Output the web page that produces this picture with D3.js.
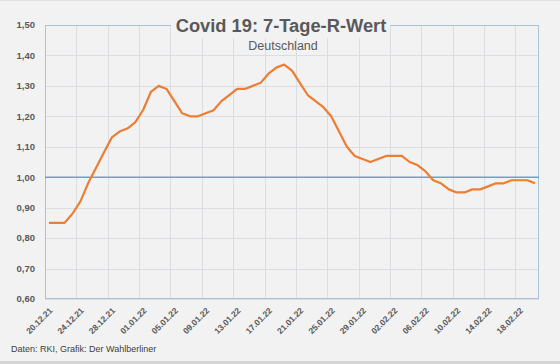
<!DOCTYPE html>
<html>
<head>
<meta charset="utf-8">
<script src="https://cdn.jsdelivr.net/npm/d3@7"></script>
<style>
  body { margin: 0; background: #f2f2f2; }
  svg { display: block; font-family: "Liberation Sans", Arial, sans-serif; }
</style>
</head>
<body>
<div id="chart"></div>
<script>
// data
const dates = [
  "20.12.21","21.12.21","22.12.21","23.12.21","24.12.21","25.12.21","26.12.21","27.12.21",
  "28.12.21","29.12.21","30.12.21","31.12.21","01.01.22","02.01.22","03.01.22","04.01.22",
  "05.01.22","06.01.22","07.01.22","08.01.22","09.01.22","10.01.22","11.01.22","12.01.22",
  "13.01.22","14.01.22","15.01.22","16.01.22","17.01.22","18.01.22","19.01.22","20.01.22",
  "21.01.22","22.01.22","23.01.22","24.01.22","25.01.22","26.01.22","27.01.22","28.01.22",
  "29.01.22","30.01.22","31.01.22","01.02.22","02.02.22","03.02.22","04.02.22","05.02.22",
  "06.02.22","07.02.22","08.02.22","09.02.22","10.02.22","11.02.22","12.02.22","13.02.22",
  "14.02.22","15.02.22","16.02.22","17.02.22","18.02.22","19.02.22","20.02.22"
];
const rWert = [
  0.85, 0.85, 0.85, 0.88, 0.92, 0.98, 1.03, 1.08,
  1.13, 1.15, 1.16, 1.18, 1.22, 1.28, 1.30, 1.29,
  1.25, 1.21, 1.20, 1.20, 1.21, 1.22, 1.25, 1.27,
  1.29, 1.29, 1.30, 1.31, 1.34, 1.36, 1.37, 1.35,
  1.31, 1.27, 1.25, 1.23, 1.20, 1.15, 1.10, 1.07,
  1.06, 1.05, 1.06, 1.07, 1.07, 1.07, 1.05, 1.04,
  1.02, 0.99, 0.98, 0.96, 0.95, 0.95, 0.96, 0.96,
  0.97, 0.98, 0.98, 0.99, 0.99, 0.99, 0.98
];
const yTicks = [0.6, 0.7, 0.8, 0.9, 1.0, 1.1, 1.2, 1.3, 1.4, 1.5];
const refValue = 1.0;
const title = "Covid 19: 7-Tage-R-Wert";
const subtitle = "Deutschland";
const source = "Daten: RKI, Grafik: Der Wahlberliner";

const width = 560, height = 364;
const margin = {top: 25, right: 21, bottom: 65, left: 45};

const svg = d3.select("#chart").append("svg")
  .attr("width", width)
  .attr("height", height);

svg.append("rect")
  .attr("width", width).attr("height", height)
  .attr("fill", "#f2f2f2");
svg.append("rect")
  .attr("x", 0).attr("y", 361).attr("width", width).attr("height", 3)
  .attr("fill", "#d4d4d4");
svg.append("rect")
  .attr("x", 0).attr("y", 0).attr("width", width).attr("height", 1)
  .attr("fill", "#e2e2e2");

const x = d3.scaleBand()
  .domain(dates)
  .range([margin.left, width - margin.right]);

const y = d3.scaleLinear()
  .domain([0.6, 1.5])
  .range([height - margin.bottom, margin.top]);

const g = svg.append("g");

// gridlines
g.append("g")
  .selectAll("line")
  .data(yTicks)
  .join("line")
  .attr("x1", margin.left).attr("x2", width - margin.right)
  .attr("y1", d => Math.round(y(d)) + 0.5).attr("y2", d => Math.round(y(d)) + 0.5)
  .attr("stroke", "#dadde2");

const tickDates = dates.filter((d, i) => i % 4 == 0);
g.append("g")
  .selectAll("line")
  .data(tickDates)
  .join("line")
  .attr("x1", d => Math.round(x(d)) + 0.5).attr("x2", d => Math.round(x(d)) + 0.5)
  .attr("y1", margin.top).attr("y2", height - margin.bottom)
  .attr("stroke", "#dadde2");

// frame
g.append("rect")
  .attr("x", margin.left + 0.5).attr("y", margin.top + 0.5)
  .attr("width", width - margin.left - margin.right - 1)
  .attr("height", height - margin.top - margin.bottom - 1)
  .attr("fill", "none")
  .attr("stroke", "#a9c1d9");

// reference line at 1,00
g.append("line")
  .attr("x1", margin.left).attr("x2", width - margin.right)
  .attr("y1", y(refValue)).attr("y2", y(refValue))
  .attr("stroke", "#6f9fd0")
  .attr("stroke-width", 1.6);

// y labels
const fmt = d => d3.format(".2f")(d).replace(".", ",");
g.append("g")
  .selectAll("text")
  .data(yTicks)
  .join("text")
  .attr("x", 35)
  .attr("y", d => y(d))
  .attr("dy", "0.35em")
  .attr("text-anchor", "end")
  .attr("font-size", 9.5)
  .attr("font-weight", "bold")
  .attr("fill", "#595959")
  .text(fmt);

// x labels
g.append("g")
  .selectAll("text")
  .data(tickDates)
  .join("text")
  .attr("transform", d => `translate(${x(d) + x.bandwidth() / 2 + 2},${height - margin.bottom + 10}) rotate(-45)`)
  .attr("text-anchor", "end")
  .attr("dy", "0.35em")
  .attr("font-size", 8.5)
  .attr("font-weight", "bold")
  .attr("fill", "#595959")
  .text(d => d);

// line
const line = d3.line()
  .x((d, i) => x(dates[i]) + x.bandwidth() / 2)
  .y(d => y(d));

g.append("path")
  .datum(rWert)
  .attr("fill", "none")
  .attr("stroke", "#ed7d31")
  .attr("stroke-width", 2.2)
  .attr("stroke-linejoin", "round")
  .attr("d", line);

// title
svg.append("rect")
  .attr("x", 171).attr("y", 12).attr("width", 219).attr("height", 26)
  .attr("fill", "#f2f2f2");
svg.append("text")
  .attr("x", 281).attr("y", 32)
  .attr("text-anchor", "middle")
  .attr("font-size", 18.3)
  .attr("font-weight", "bold")
  .attr("fill", "#595959")
  .text(title);
svg.append("text")
  .attr("x", 283).attr("y", 50)
  .attr("text-anchor", "middle")
  .attr("font-size", 12.5)
  .attr("fill", "#595959")
  .text(subtitle);

svg.append("text")
  .attr("x", 11).attr("y", 352)
  .attr("font-size", 9)
  .attr("fill", "#404040")
  .text(source);
</script>
</body>
</html>
